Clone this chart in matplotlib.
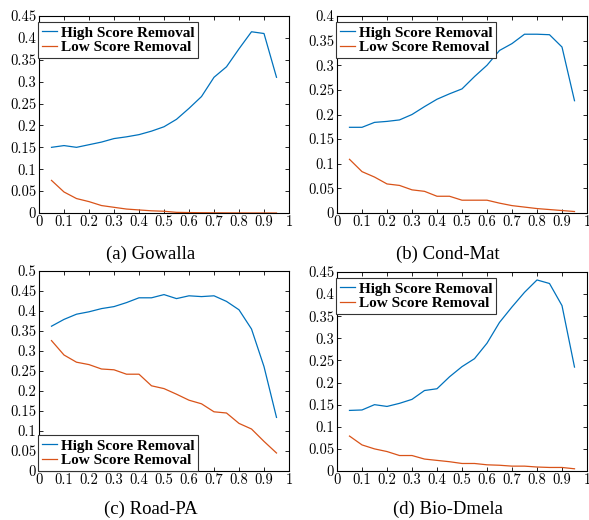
import matplotlib
matplotlib.use("Agg")
import matplotlib.pyplot as plt
import numpy as np

plt.rcParams['font.family'] = 'cmr10'
plt.rcParams['axes.formatter.use_mathtext'] = True

frac = [0.05, 0.10, 0.15, 0.20, 0.25, 0.30, 0.35, 0.40, 0.45, 0.50,
        0.55, 0.60, 0.65, 0.70, 0.75, 0.80, 0.85, 0.90, 0.95]

gowalla_high = [0.150, 0.154, 0.150, 0.156, 0.162, 0.170, 0.174, 0.179, 0.187, 0.197,
                0.214, 0.239, 0.266, 0.310, 0.334, 0.375, 0.414, 0.410, 0.310]
gowalla_low = [0.0745, 0.048, 0.033, 0.026, 0.017, 0.013, 0.009, 0.007, 0.005, 0.004,
               0.0015, 0.001, 0.0007, 0.0005, 0.0003, 0.0002, 0.0001, 0.0001, 0.0]

condmat_high = [0.174, 0.174, 0.184, 0.186, 0.189, 0.200, 0.216, 0.231, 0.242, 0.252,
                0.277, 0.300, 0.330, 0.344, 0.363, 0.363, 0.362, 0.337, 0.228]
condmat_low = [0.109, 0.084, 0.073, 0.059, 0.056, 0.047, 0.044, 0.034, 0.034, 0.026,
               0.026, 0.026, 0.020, 0.015, 0.012, 0.009, 0.007, 0.005, 0.003]

roadpa_high = [0.362, 0.379, 0.392, 0.398, 0.406, 0.411, 0.421, 0.433, 0.433, 0.441,
               0.431, 0.438, 0.436, 0.438, 0.424, 0.403, 0.355, 0.261, 0.134]
roadpa_low = [0.326, 0.290, 0.272, 0.266, 0.255, 0.253, 0.242, 0.242, 0.213, 0.206,
              0.192, 0.177, 0.168, 0.148, 0.145, 0.119, 0.105, 0.074, 0.045]

dmela_high = [0.137, 0.138, 0.150, 0.146, 0.153, 0.162, 0.182, 0.186, 0.213, 0.236,
              0.254, 0.289, 0.336, 0.371, 0.404, 0.432, 0.424, 0.374, 0.235]
dmela_low = [0.079, 0.059, 0.050, 0.044, 0.035, 0.035, 0.027, 0.024, 0.021, 0.017,
             0.017, 0.014, 0.013, 0.011, 0.011, 0.009, 0.008, 0.008, 0.005]

panels = [
    ("(a) Gowalla", gowalla_high, gowalla_low, 0.45, "upper"),
    ("(b) Cond-Mat", condmat_high, condmat_low, 0.40, "upper"),
    ("(c) Road-PA", roadpa_high, roadpa_low, 0.50, "lower"),
    ("(d) Bio-Dmela", dmela_high, dmela_low, 0.45, "upper"),
]

W, H = 589, 520
fig = plt.figure(figsize=(W / 100, H / 100), dpi=100)

# pixel boxes: left, top, right, bottom, caption centre x, caption centre y
boxes = [(39, 16, 289, 213, 151, 254), (337, 16, 587, 213, 448, 254),
         (39, 271, 289, 471, 151, 509), (337, 272, 587, 471, 448, 509)]

blue = '#0072BD'
orange = '#D95319'

for (caption, hi, lo, ymax, where), (l, t, r, b, cx, cy) in zip(panels, boxes):
    ax = fig.add_axes([l / W, 1 - b / H, (r - l) / W, (b - t) / H])
    ax.plot(frac, hi, color=blue, lw=0.9, label='High Score Removal')
    ax.plot(frac, lo, color=orange, lw=0.9, label='Low Score Removal')
    ax.set_xlim(0, 1)
    ax.set_ylim(0, ymax)
    xt = np.round(np.arange(0, 1.01, 0.1), 2)
    yt = np.round(np.arange(0, ymax + 0.001, 0.05), 2)
    ax.set_xticks(xt)
    ax.set_xticklabels([f"{v:g}" for v in xt])
    ax.set_yticks(yt)
    ax.set_yticklabels([f"{v:g}" for v in yt])
    ax.tick_params(direction='in', top=True, right=True, length=3, width=0.6,
                   labelsize=10.5, pad=2)
    for s in ax.spines.values():
        s.set_linewidth(0.8)

    if where == "upper":
        anchor, loc = (-0.004, 1 - 6 / (b - t)), 'upper left'
    else:
        anchor, loc = (-0.004, 0), 'lower left'
    leg = ax.legend(loc=loc, bbox_to_anchor=anchor, borderaxespad=0,
                    prop={'family': 'Liberation Serif', 'weight': 'bold', 'size': 11},
                    fancybox=False, framealpha=1, edgecolor='#333333',
                    handlelength=1.0, handletextpad=0.25, borderpad=0.25,
                    labelspacing=0.05)
    leg.get_frame().set_linewidth(0.8)

    fig.text(cx / W, 1 - cy / H, caption, ha='center', va='center',
             family='Liberation Serif', fontsize=13.5)

fig.savefig('out.png', dpi=100)
